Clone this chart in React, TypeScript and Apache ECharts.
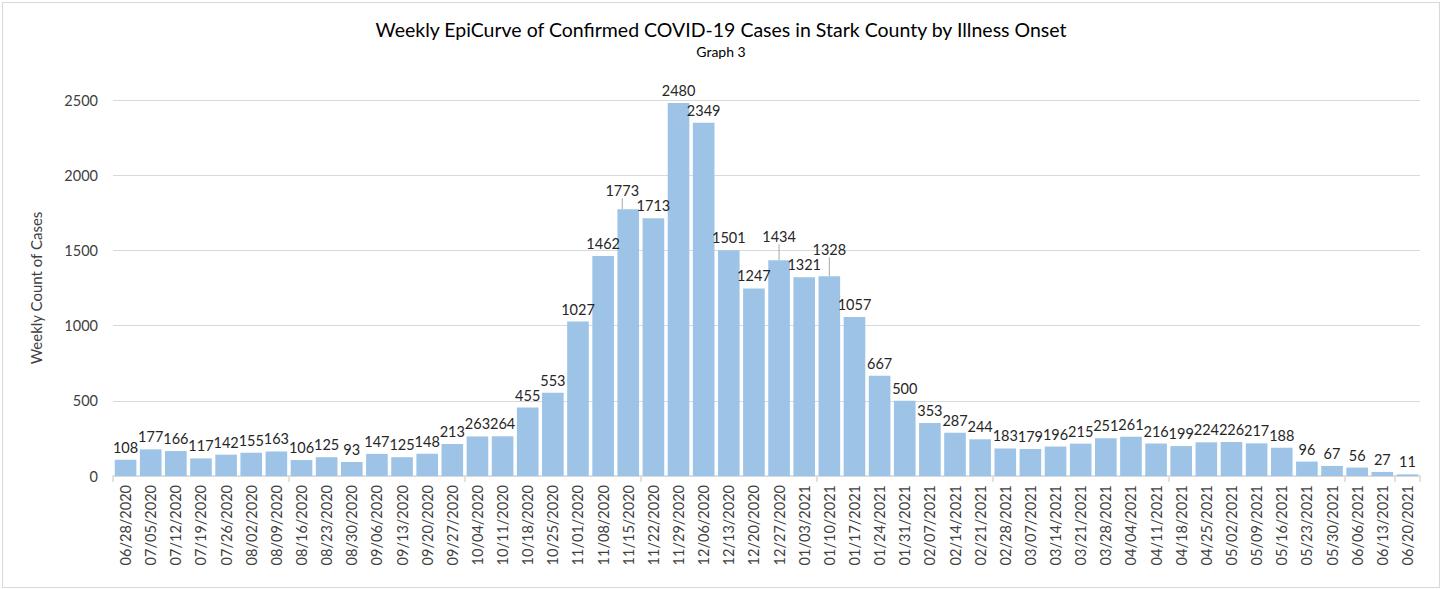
import React, { useEffect, useRef } from "react";
import * as echarts from "echarts";

const categories = [
  "06/28/2020","07/05/2020","07/12/2020","07/19/2020","07/26/2020","08/02/2020","08/09/2020",
  "08/16/2020","08/23/2020","08/30/2020","09/06/2020","09/13/2020","09/20/2020","09/27/2020",
  "10/04/2020","10/11/2020","10/18/2020","10/25/2020","11/01/2020","11/08/2020","11/15/2020",
  "11/22/2020","11/29/2020","12/06/2020","12/13/2020","12/20/2020","12/27/2020","01/03/2021",
  "01/10/2021","01/17/2021","01/24/2021","01/31/2021","02/07/2021","02/14/2021","02/21/2021",
  "02/28/2021","03/07/2021","03/14/2021","03/21/2021","03/28/2021","04/04/2021","04/11/2021",
  "04/18/2021","04/25/2021","05/02/2021","05/09/2021","05/16/2021","05/23/2021","05/30/2021",
  "06/06/2021","06/13/2021","06/20/2021",
];

const weeklyCases = [
  108,177,166,117,142,155,163,106,125,93,147,125,148,213,263,264,455,553,1027,1462,
  1773,1713,2480,2349,1501,1247,1434,1321,1328,1057,667,500,353,287,244,183,179,196,
  215,251,261,216,199,224,226,217,188,96,67,56,27,11,
];

const yTicks = { min: 0, max: 2500, interval: 500 };

const titleText = "Weekly EpiCurve of Confirmed COVID-19 Cases in Stark County by Illness Onset";
const subtitleText = "Graph 3";
const yAxisName = "Weekly Count of Cases";

const movedLabels: Record<number, { dx: number; dy: number }> = {
  20: { dx: -6, dy: -6 },
  26: { dx: 0, dy: -11 },
  28: { dx: 0, dy: -14 },
};

export default function App() {
  const ref = useRef<HTMLDivElement>(null);
  useEffect(() => {
    if (!ref.current) return;
    const chart = echarts.init(ref.current, null, { renderer: "svg" });
    const font = "Lato, 'Open Sans', sans-serif";
    const seriesData = weeklyCases.map((v, i) =>
      movedLabels[i]
        ? { value: v, labelLine: { show: true, lineStyle: { color: "#a6a6a6", width: 1 } } }
        : { value: v }
    );
    chart.setOption({
      animation: false,
      backgroundColor: "#ffffff",
      textStyle: { fontFamily: font },
      title: {
        text: titleText,
        subtext: subtitleText,
        left: "center",
        top: 11,
        itemGap: 5,
        textStyle: { fontFamily: font, fontSize: 19.5, fontWeight: 400, color: "#000000" },
        subtextStyle: { fontFamily: font, fontSize: 14, color: "#000000" },
      },
      grid: { left: 110, right: 19, top: 97, bottom: 111 },
      xAxis: {
        type: "category",
        data: categories,
        axisLine: { lineStyle: { color: "#d9d9d9", width: 1.5 } },
        axisTick: { show: true, interval: 6, length: 6, lineStyle: { color: "#d9d9d9", width: 1.5 } },
        axisLabel: {
          interval: 0,
          rotate: 90,
          fontSize: 14.5,
          color: "#404040",
          margin: 9,
          fontFamily: font,
        },
      },
      yAxis: {
        type: "value",
        min: yTicks.min,
        max: yTicks.max,
        interval: yTicks.interval,
        name: yAxisName,
        nameLocation: "middle",
        nameGap: 70,
        nameTextStyle: { fontSize: 15, color: "#404040", fontFamily: font },
        axisLine: { show: false },
        axisTick: { show: false },
        axisLabel: {
          fontSize: 14.5,
          color: "#404040",
          margin: 15,
          fontFamily: font,
          formatter: (v: number) => String(v),
        },
        splitLine: { lineStyle: { color: "#d9d9d9", width: 1 } },
      },
      series: [
        {
          type: "bar",
          data: seriesData,
          barCategoryGap: "14%",
          itemStyle: { color: "#9dc3e6" },
          label: {
            show: true,
            position: "top",
            distance: 5,
            fontSize: 14.5,
            color: "#262626",
            fontFamily: font,
          },
          labelLine: { show: false },
          labelLayout: (params: any) => {
            const m = movedLabels[params.dataIndex];
            if (!m) return {};
            return { dx: m.dx, dy: m.dy };
          },
        },
      ],
    });
    return () => chart.dispose();
  }, []);
  return (
    <div
      style={{
        position: "absolute",
        left: 0,
        top: 0,
        width: 1448,
        height: 590,
        background: "#fff",
      }}
    >
      <div
        style={{
          position: "absolute",
          left: 2,
          top: 2,
          width: 1438,
          height: 586,
          border: "1px solid #d9d9d9",
          boxSizing: "border-box",
        }}
      />
      <div ref={ref} style={{ position: "absolute", left: 3, top: 3, width: 1436, height: 584 }} />
    </div>
  );
}
